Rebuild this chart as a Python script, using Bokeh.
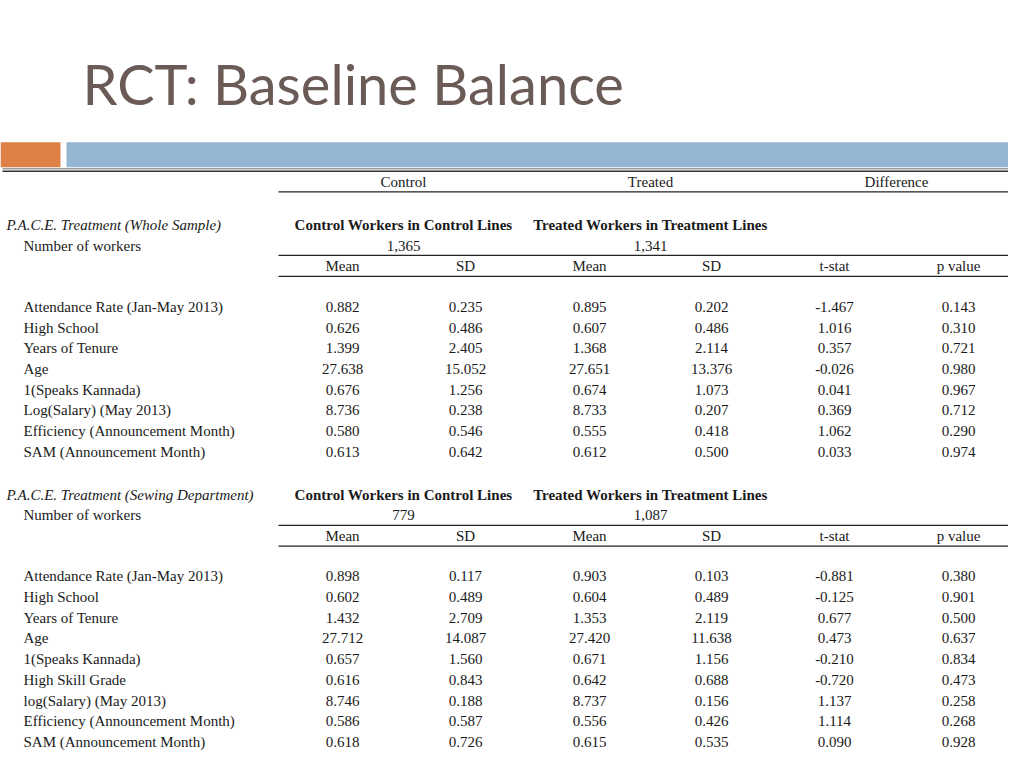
from bokeh.plotting import figure
from bokeh.models import ColumnDataSource, Range1d
from bokeh.embed import file_html
from bokeh.resources import INLINE
from bokeh.core.properties import value

# ---------------- data ----------------
title_text = "RCT: Baseline Balance"
group_headers = ["Control", "Treated", "Difference"]
sub_headers = ["Mean", "SD", "Mean", "SD", "t-stat", "p value"]

s1_title = "P.A.C.E. Treatment (Whole Sample)"
s1_groups = ["Control Workers in Control Lines", "Treated Workers in Treatment Lines"]
s1_n = [1365, 1341]
s1_labels = ["Attendance Rate (Jan-May 2013)", "High School", "Years of Tenure", "Age",
             "1(Speaks Kannada)", "Log(Salary) (May 2013)",
             "Efficiency (Announcement Month)", "SAM (Announcement Month)"]
s1_ctrl_mean = [0.882, 0.626, 1.399, 27.638, 0.676, 8.736, 0.580, 0.613]
s1_ctrl_sd = [0.235, 0.486, 2.405, 15.052, 1.256, 0.238, 0.546, 0.642]
s1_treat_mean = [0.895, 0.607, 1.368, 27.651, 0.674, 8.733, 0.555, 0.612]
s1_treat_sd = [0.202, 0.486, 2.114, 13.376, 1.073, 0.207, 0.418, 0.500]
s1_tstat = [-1.467, 1.016, 0.357, -0.026, 0.041, 0.369, 1.062, 0.033]
s1_pval = [0.143, 0.310, 0.721, 0.980, 0.967, 0.712, 0.290, 0.974]

s2_title = "P.A.C.E. Treatment (Sewing Department)"
s2_groups = ["Control Workers in Control Lines", "Treated Workers in Treatment Lines"]
s2_n = [779, 1087]
s2_labels = ["Attendance Rate (Jan-May 2013)", "High School", "Years of Tenure", "Age",
             "1(Speaks Kannada)", "High Skill Grade", "log(Salary) (May 2013)",
             "Efficiency (Announcement Month)", "SAM (Announcement Month)"]
s2_ctrl_mean = [0.898, 0.602, 1.432, 27.712, 0.657, 0.616, 8.746, 0.586, 0.618]
s2_ctrl_sd = [0.117, 0.489, 2.709, 14.087, 1.560, 0.843, 0.188, 0.587, 0.726]
s2_treat_mean = [0.903, 0.604, 1.353, 27.420, 0.671, 0.642, 8.737, 0.556, 0.615]
s2_treat_sd = [0.103, 0.489, 2.119, 11.638, 1.156, 0.688, 0.156, 0.426, 0.535]
s2_tstat = [-0.881, -0.125, 0.677, 0.473, -0.210, -0.720, 1.137, 1.114, 0.090]
s2_pval = [0.380, 0.901, 0.500, 0.637, 0.834, 0.473, 0.258, 0.268, 0.928]

# ---------------- layout ----------------
W, H = 1008, 752
p = figure(width=W, height=H, x_range=Range1d(0, W), y_range=Range1d(758, 0),
           output_backend="svg", toolbar_location=None, min_border=0)
p.axis.visible = False
p.grid.visible = False
p.outline_line_color = None
p.background_fill_color = "white"
p.border_fill_color = "white"

SERIF = value("Liberation Serif")
TXT = "#1a1a1a"
FS = "15px"

# title
p.text(x=[82], y=[84], text=[title_text], text_font=value("Lato"), text_font_size="56px",
       text_color="#6b5b57", text_baseline="middle", text_align="left")

# decorative bars
p.quad(left=[0], right=[60], top=[143], bottom=[168], fill_color="#dd8047", line_color=None)
p.quad(left=[66], right=[1024], top=[143], bottom=[168], fill_color="#94b6d2", line_color=None)

# table top border (double)
p.segment(x0=[2], y0=[169.5], x1=[1020], y1=[169.5], line_color="#9a9a9a", line_width=1.5)
p.segment(x0=[2], y0=[172], x1=[1020], y1=[172], line_color="#333333", line_width=1.5)

col_x = [342, 465, 589, 711, 834, 958]
grp_x = [403, 650, 896]
TABLE_L, TABLE_R = 278, 1020

def hline(y):
    p.segment(x0=[TABLE_L], y0=[y], x1=[TABLE_R], y1=[y], line_color="#222222", line_width=1.3)

# group header row
p.text(x=grp_x, y=[183] * 3, text=group_headers, text_font=SERIF, text_font_size=FS,
       text_color=TXT, text_align="center", text_baseline="middle")
hline(193)

def fmt(v):
    return f"{v:.3f}"

def section(y_title, title, groups, ns, labels, cols, row_y0, row_dy, y_line1, y_sub, y_line2):
    p.text(x=[6], y=[y_title], text=[title], text_font=SERIF, text_font_size=FS,
           text_font_style="italic", text_color=TXT, text_align="left", text_baseline="middle")
    p.text(x=grp_x[:2], y=[y_title] * 2, text=groups, text_font=SERIF, text_font_size=FS,
           text_font_style="bold", text_color=TXT, text_align="center", text_baseline="middle")
    p.text(x=[23], y=[y_title + 21], text=["Number of workers"], text_font=SERIF, text_font_size=FS,
           text_color=TXT, text_align="left", text_baseline="middle")
    p.text(x=grp_x[:2], y=[y_title + 21] * 2, text=[f"{n:,}" for n in ns], text_font=SERIF,
           text_font_size=FS, text_color=TXT, text_align="center", text_baseline="middle")
    hline(y_line1)
    p.text(x=col_x, y=[y_sub] * 6, text=sub_headers, text_font=SERIF, text_font_size=FS,
           text_color=TXT, text_align="center", text_baseline="middle")
    hline(y_line2)
    ys = [row_y0 + i * row_dy for i in range(len(labels))]
    src = ColumnDataSource(dict(y=ys, label=labels))
    p.text(x=23, y="y", text="label", source=src, text_font=SERIF, text_font_size=FS,
           text_color=TXT, text_align="left", text_baseline="middle")
    for cx, vals in zip(col_x, cols):
        s = ColumnDataSource(dict(y=ys, t=[fmt(v) for v in vals]))
        p.text(x=cx, y="y", text="t", source=s, text_font=SERIF, text_font_size=FS,
               text_color=TXT, text_align="center", text_baseline="middle")

section(226, s1_title, s1_groups, s1_n, s1_labels,
        [s1_ctrl_mean, s1_ctrl_sd, s1_treat_mean, s1_treat_sd, s1_tstat, s1_pval],
        309, 20.85, 257, 268, 278)
section(498, s2_title, s2_groups, s2_n, s2_labels,
        [s2_ctrl_mean, s2_ctrl_sd, s2_treat_mean, s2_treat_sd, s2_tstat, s2_pval],
        580.5, 20.85, 529, 540, 550)

open("out.html", "w").write(file_html(p, INLINE))
